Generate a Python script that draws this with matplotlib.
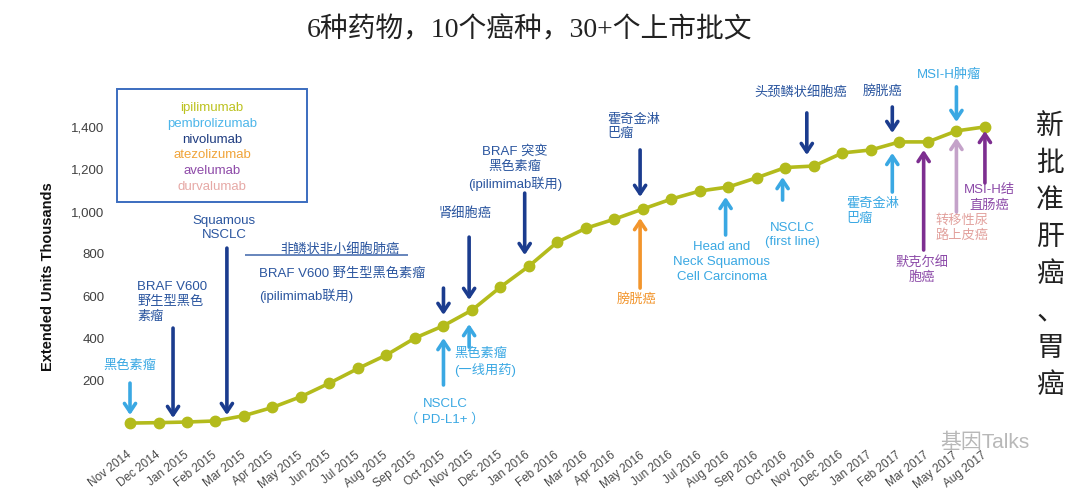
import matplotlib
matplotlib.use("Agg")
import matplotlib.pyplot as plt
from matplotlib.patches import Rectangle

plt.rcParams['font.family'] = ['Liberation Sans', 'Noto Sans CJK SC']

# data
months = ["Nov 2014", "Dec 2014",
          "Jan 2015", "Feb 2015", "Mar 2015", "Apr 2015", "May 2015", "Jun 2015",
          "Jul 2015", "Aug 2015", "Sep 2015", "Oct 2015", "Nov 2015", "Dec 2015",
          "Jan 2016", "Feb 2016", "Mar 2016", "Apr 2016", "May 2016", "Jun 2016",
          "Jul 2016", "Aug 2016", "Sep 2016", "Oct 2016", "Nov 2016", "Dec 2016",
          "Jan 2017", "Feb 2017", "Mar 2017", "May 2017", "Aug 2017"]
units = [0, 2, 5, 10, 35, 74, 125, 189, 258, 322,
         402, 460, 534, 643, 742, 856, 921, 964, 1012, 1059,
         1097, 1116, 1160, 1208, 1215, 1277, 1291, 1329, 1329, 1381,
         1400]
drugs = ["ipilimumab", "pembrolizumab", "nivolumab", "atezolizumab", "avelumab", "durvalumab"]
yticks = [200, 400, 600, 800, 1000, 1200, 1400]

# colours
CURVE = "#b3bb1c"
LB = "#3aa8e3"
NAVY = "#1b3c8e"
NAVY_T = "#2a559f"
ORANGE = "#f2952c"
PURPLE = "#7d2e90"
PURPLE_T = "#8c4aa8"
MAUVE = "#c4a2c9"
PINK = "#e2a19d"
drug_colors = ["#bcc21f", "#4db6ea", "#1f3c80", "#f0a43a", "#8e4aa8", "#e6a9a6"]

# arrows: (x, tail, tip, colour)
arrows = [
    (0, 189, 38, LB),
    (1.51, 449, 24, NAVY),
    (3.40, 827, 38, NAVY),
    (11, 638, 511, NAVY),
    (11.9, 879, 582, NAVY),
    (11, 180, 402, LB),
    (11.9, 359, 468, LB),
    (13.85, 1087, 794, NAVY),
    (17.9, 1291, 1069, NAVY),
    (17.9, 638, 969, ORANGE),
    (20.9, 889, 1069, LB),
    (22.9, 1054, 1163, LB),
    (23.75, 1466, 1267, NAVY),
    (26.75, 1494, 1371, NAVY),
    (26.75, 1092, 1277, LB),
    (27.85, 818, 1291, PURPLE),
    (29, 1589, 1423, LB),
    (29, 998, 1348, MAUVE),
    (30, 1135, 1381, PURPLE),
]

# labels: (x, y, text, colour, ha)
notes = [
    (0, 270, "黑色素瘤", LB, 'center'),
    (0.25, 572, "BRAF V600\n野生型黑色\n素瘤", NAVY_T, 'left'),
    (3.3, 922, "Squamous\nNSCLC", NAVY_T, 'center'),
    (7.37, 818, "非鳞状非小细胞肺癌", NAVY_T, 'center'),
    (4.53, 704, "BRAF V600 野生型黑色素瘤", NAVY_T, 'left'),
    (4.53, 600, "(ipilimimab联用)", NAVY_T, 'left'),
    (11.75, 988, "肾细胞癌", NAVY_T, 'center'),
    (11.05, 52, "NSCLC\n（ PD-L1+ ）", LB, 'center'),
    (11.37, 288, "黑色素瘤\n(一线用药)", LB, 'left'),
    (13.5, 1206, "BRAF 突变\n黑色素瘤\n(ipilimimab联用)", NAVY_T, 'center'),
    (16.74, 1400, "霍奇金淋\n巴瘤", NAVY_T, 'left'),
    (17.79, 586, "膀胱癌", ORANGE, 'center'),
    (20.77, 761, "Head and\nNeck Squamous\nCell Carcinoma", LB, 'center'),
    (23.23, 889, "NSCLC\n(first line)", LB, 'center'),
    (23.54, 1560, "头颈鳞状细胞癌", NAVY_T, 'center'),
    (26.42, 1570, "膀胱癌", NAVY_T, 'center'),
    (25.12, 1002, "霍奇金淋\n巴瘤", LB, 'left'),
    (27.8, 723, "默克尔细\n胞癌", PURPLE_T, 'center'),
    (28.75, 1645, "MSI-H肿瘤", LB, 'center'),
    (29.2, 922, "转移性尿\n路上皮癌", PINK, 'center'),
    (30.15, 1064, "MSI-H结\n直肠癌", PURPLE_T, 'center'),
]

fig = plt.figure(figsize=(10.8, 4.94), dpi=100)
ax = fig.add_axes([110 / 1080, 1 - 440 / 494, 900 / 1080, 355 / 494])

x = list(range(len(months)))
ax.plot(x, units, color=CURVE, lw=2.6, marker='o', markersize=7.5, zorder=3)

ax.set_xlim(-0.702, 30.88)
ax.set_ylim(-80, 1598)
ax.set_xticks(x)
ax.set_xticklabels(months, rotation=38, ha='right', va='center', rotation_mode='anchor',
                   fontsize=8.5, color='#4a4a4a')
ax.set_yticks(yticks)
ax.set_yticklabels([f"{v:,}" for v in yticks], fontsize=9.5, color='#404040')
ax.tick_params(length=0)
ax.tick_params(axis='x', pad=10)
ax.tick_params(axis='y', pad=4)
for s in ax.spines.values():
    s.set_visible(False)

fig.text(48 / 1080, 1 - 277 / 494, "Extended Units Thousands", rotation=90,
         ha='center', va='center', fontsize=10.5, fontweight='bold', color='#111111')

for xa, tail, tip, c in arrows:
    ax.annotate("", xy=(xa, tip), xytext=(xa, tail),
                arrowprops=dict(arrowstyle='->,head_length=0.6,head_width=0.4',
                                lw=2.6, color=c, shrinkA=0, shrinkB=0),
                zorder=4, annotation_clip=False)

for xt, yt, txt, c, ha in notes:
    ax.text(xt, yt, txt, color=c, ha=ha, va='center', fontsize=9.5,
            linespacing=1.3, clip_on=False)

ax.hlines(794, 4.04, 9.75, color='#5b7cb6', lw=1.3)

# legend box
ax.add_patch(Rectangle((-0.456, 1045), 6.67, 534, fill=False, ec='#3b6cbf', lw=1.4,
                       clip_on=False))
for k, (d, c) in enumerate(zip(drugs, drug_colors)):
    ax.text(2.88, 1489 - k * 74.5, d, color=c, ha='center', va='center', fontsize=9.5)

fig.text(0.49, 1 - 30 / 494, "6种药物，10个癌种，30+个上市批文",
         ha='center', va='center', fontsize=20, color='#222222',
         family=['Liberation Serif', 'Noto Sans CJK SC'])

for k, ch in enumerate("新批准肝癌、胃癌"):
    fig.text(1050 / 1080, 1 - (127 + k * 37) / 494, ch, ha='center', va='center',
             fontsize=20, color='#222222')

fig.text(985 / 1080, 1 - 442 / 494, "基因Talks", ha='center', va='center',
         fontsize=15, color='#9a9a9a', alpha=0.7)

fig.savefig("out.png", dpi=100)
